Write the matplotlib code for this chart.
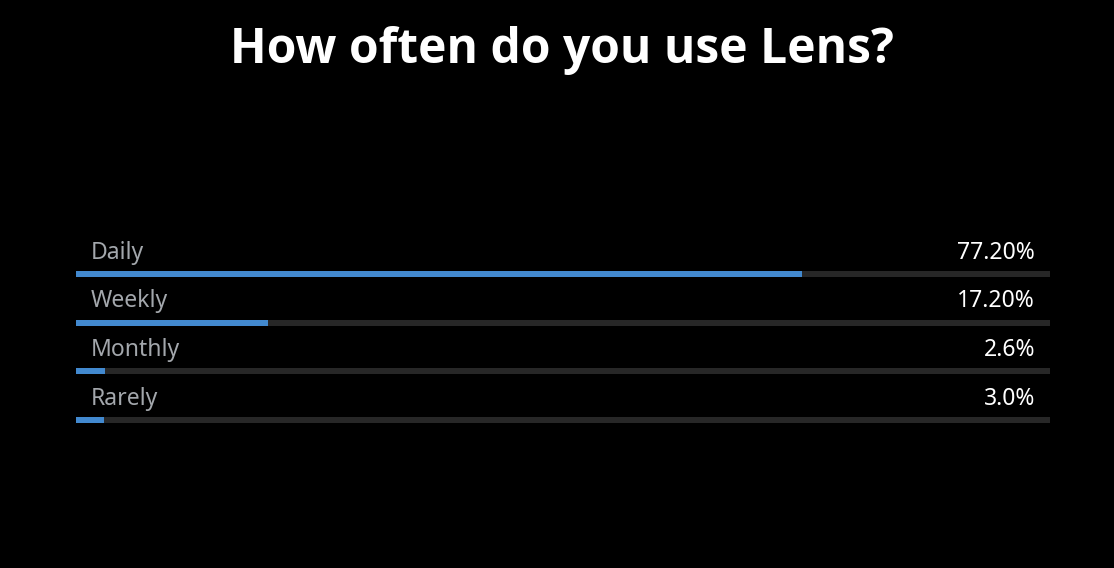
import matplotlib.pyplot as plt

# --- data ---
categories = ['Daily', 'Weekly', 'Monthly', 'Rarely']
value_labels = ['77.20%', '17.20%', '2.6%', '3.0%']
bar_values = [74.5, 19.7, 3.0, 2.9]   # blue fill length as drawn (percent of track)

blue = '#4289cf'
track = '#272727'
label_grey = '#a3a7ac'

fig = plt.figure(figsize=(11.14, 5.68), dpi=100, facecolor='black')

W, H = 1114, 568
left, right = 76, 1050
top, bottom = 225, 430
ax = fig.add_axes([left / W, 1 - bottom / H, (right - left) / W, (bottom - top) / H])
ax.set_facecolor('black')

ypos = list(range(len(categories)))
bar_h = 0.125

# background tracks then the filled part
ax.barh(ypos, [100] * len(ypos), height=bar_h, color=track, left=0)
ax.barh(ypos, bar_values, height=bar_h, color=blue, left=0)

for y, cat, lab in zip(ypos, categories, value_labels):
    ax.text(1.55, y - 0.31, cat, color=label_grey, fontsize=16.5,
            family='Noto Sans', va='baseline', ha='left')
    ax.text(98.45, y - 0.31, lab, color='white', fontsize=16.5,
            family='Noto Sans', va='baseline', ha='right')

ax.set_xlim(0, 100)
ax.set_ylim(3.2, -1.0)
ax.axis('off')

fig.text(562 / W, 1 - 63 / H, 'How often do you use Lens?', color='white',
         fontsize=34.6, fontweight='bold', family='Open Sans',
         ha='center', va='baseline')

plt.savefig('out.png', dpi=100, facecolor='black')
